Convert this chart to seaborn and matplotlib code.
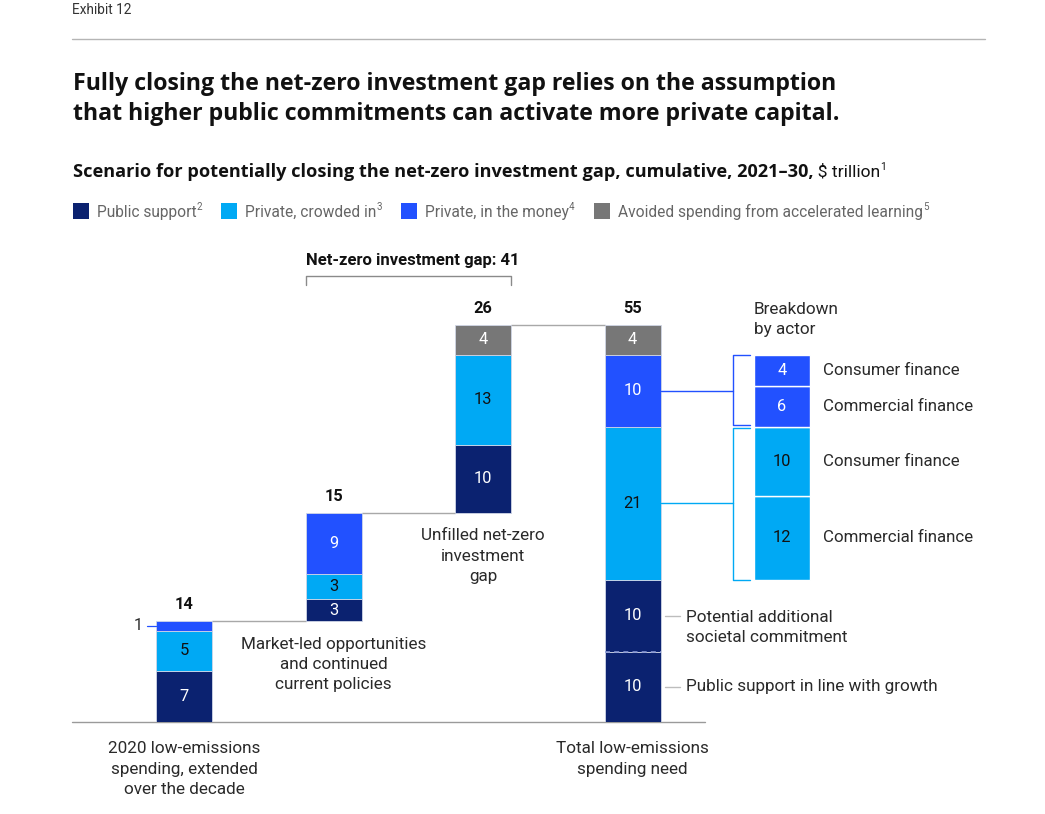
import numpy as np
import pandas as pd
import matplotlib
matplotlib.use("Agg")
import matplotlib.pyplot as plt
import seaborn as sns

# ---------------- data ----------------
step_labels = ["2020 low-emissions\nspending, extended\nover the decade",
               "Market-led opportunities\nand continued\ncurrent policies",
               "Unfilled net-zero\ninvestment\ngap",
               "Total low-emissions\nspending need"]
step_pos = [0, 1, 2, 3]
step_is_total = [True, False, False, True]

public_growth = [7.1, 3.0, 9.4, 9.7]
public_additional = [0.0, 0.0, 0.0, 10.0]
crowded_in = [5.5, 3.45, 12.45, 21.2]
in_the_money = [1.4, 8.55, 0.0, 10.0]
avoided = [0.0, 0.0, 4.15, 4.1]

public_growth_labels = ["7", "3", "10", "10"]
public_additional_labels = ["", "", "", "10"]
crowded_in_labels = ["5", "3", "13", "21"]
in_the_money_labels = ["1", "9", "", "10"]
avoided_labels = ["", "", "4", "4"]
total_labels = ["14", "15", "26", "55"]

gap_label = "Net-zero investment gap: 41"

breakdown_pos = 4
breakdown_values = [11.6, 9.6, 5.6, 4.4]
breakdown_value_labels = ["12", "10", "6", "4"]
breakdown_names = ["Commercial finance", "Consumer finance",
                   "Commercial finance", "Consumer finance"]
breakdown_series = ["crowded", "crowded", "money", "money"]

legend_labels = ["Public support", "Private, crowded in",
                 "Private, in the money", "Avoided spending from accelerated learning"]
legend_notes = ["2", "3", "4", "5"]

# ---------------- style ----------------
NAVY = "#0B2270"
CYAN = "#00A9F4"
BLUE = "#2251FF"
GRAY = "#777777"
TXT = "#2a2a2a"

sns.set_theme(style="white")
FONT = ["Roboto", "DejaVu Sans"]
HEAD = ["Open Sans", "DejaVu Sans"]
plt.rcParams["font.family"] = FONT

W, H = 1045, 814
fig = plt.figure(figsize=(W / 100, H / 100), dpi=100)
renderer = fig.canvas.get_renderer()

# overlay (pixel coordinates) for header texts
ov = fig.add_axes([0, 0, 1, 1])
ov.set_xlim(0, W)
ov.set_ylim(H, 0)
ov.set_axis_off()

# main axes
PX_PER_UNIT = 397 / 55.0
X0_PX, X_STEP_PX = 184.0, 149.5
AX_L, AX_R, AX_B, AX_T = 72, 1000, 722, 250
ax = fig.add_axes([AX_L / W, (H - AX_B) / H, (AX_R - AX_L) / W, (AX_B - AX_T) / H])
BAR_W = 56 / X_STEP_PX

# bases for waterfall
bases = []
running = 0.0
for i in range(len(step_pos)):
    bases.append(0.0 if step_is_total[i] else running)
    running = bases[i] + public_growth[i] + public_additional[i] + crowded_in[i] + in_the_money[i] + avoided[i]

layers = [(public_growth, NAVY, public_growth_labels, "white"),
          (public_additional, NAVY, public_additional_labels, "white"),
          (crowded_in, CYAN, crowded_in_labels, "#111111"),
          (in_the_money, BLUE, in_the_money_labels, "white"),
          (avoided, GRAY, avoided_labels, "white")]

cum = list(bases)
seg_info = []
for vals, col, labs, tcol in layers:
    xs = [step_pos[i] for i in range(len(vals)) if vals[i] > 0]
    hs = [vals[i] for i in range(len(vals)) if vals[i] > 0]
    bs = [cum[i] for i in range(len(vals)) if vals[i] > 0]
    if xs:
        sns.barplot(x=xs, y=hs, bottom=bs, native_scale=True, width=BAR_W,
                    color=col, saturation=1, errorbar=None, ax=ax,
                    linewidth=0.6, edgecolor="#d0d6e6", zorder=2)
    for i in range(len(vals)):
        if vals[i] > 0:
            seg_info.append((step_pos[i], cum[i], vals[i], labs[i], tcol))
            cum[i] += vals[i]
tops = cum

# breakdown bar
bd_base = bases[3] + public_growth[3] + public_additional[3]
b = bd_base
bd_mids = []
for v, lab, ser in zip(breakdown_values, breakdown_value_labels, breakdown_series):
    col = CYAN if ser == "crowded" else BLUE
    sns.barplot(x=[breakdown_pos], y=[v], bottom=[b], native_scale=True, width=BAR_W,
                color=col, saturation=1, errorbar=None, ax=ax,
                linewidth=1.0, edgecolor="white", zorder=2)
    tcol = "#111111" if ser == "crowded" else "white"
    ax.text(breakdown_pos, b + v / 2, lab, ha="center", va="center",
            fontsize=11.8, color=tcol, zorder=4)
    bd_mids.append(b + v / 2)
    b += v

ax.set_xlim(-(X0_PX - AX_L) / X_STEP_PX, (AX_R - X0_PX) / X_STEP_PX)
ax.set_ylim(0, (AX_B - AX_T) / PX_PER_UNIT)
ax.set_axis_off()

def px2x(px):
    return (px - X0_PX) / X_STEP_PX

hw = BAR_W / 2

# segment labels
for x, bot, v, lab, tcol in seg_info:
    if not lab:
        continue
    if x == 0 and lab == "1":
        ym = bot + v / 2
        ax.plot([px2x(147), x - hw], [ym, ym], color=BLUE, lw=0.9, zorder=3)
        ax.text(px2x(143), ym, lab, ha="right", va="center", fontsize=11.5, color=TXT)
        continue
    ax.text(x, bot + v / 2, lab, ha="center", va="center", fontsize=11.8,
            color=tcol, zorder=4)

# dashed split in total public support
ax.plot([3 - hw, 3 + hw], [public_growth[3]] * 2, color="#8898d4", lw=1.2,
        ls=(0, (3, 2.5)), zorder=5)

# totals
for i, x in enumerate(step_pos):
    ax.annotate(total_labels[i], (x, tops[i]), xytext=(0, 11.8), textcoords="offset points",
                ha="center", va="center", fontsize=11.8, fontweight="bold", color="#111111")

# connectors between bars
for i in range(len(step_pos) - 1):
    ax.plot([step_pos[i] + hw, step_pos[i + 1] - hw], [tops[i], tops[i]],
            color="#a8a8a8", lw=1, zorder=1)

# baseline
ax.plot([ax.get_xlim()[0], px2x(705)], [0, 0], color="#9a9a9a", lw=1, clip_on=False, zorder=1)

# gap bracket
gy = (AX_B - 276) / PX_PER_UNIT
gy2 = (AX_B - 285) / PX_PER_UNIT
gl, gr = step_pos[1] - hw, step_pos[2] + hw
ax.plot([gl, gl, gr, gr], [gy2, gy, gy, gy2], color="#8a8a8a", lw=1, clip_on=False)
ax.text((gl + gr) / 2 + 0.03, (AX_B - 260) / PX_PER_UNIT, gap_label, ha="center", va="center",
        fontsize=12, fontweight="bold", color="#111111")

# step labels
ann = dict(fontsize=12.3, color=TXT, linespacing=1.45)
for i in [0, 3]:
    ax.annotate(step_labels[i], (step_pos[i], 0), xytext=(0, -13.8), textcoords="offset points",
                ha="center", va="top", annotation_clip=False, **ann)
ax.annotate(step_labels[1], (step_pos[1], bases[1]), xytext=(0, -11.2), textcoords="offset points",
            ha="center", va="top", **ann)
ax.annotate(step_labels[2], (step_pos[2], bases[2]), xytext=(0, -11.2), textcoords="offset points",
            ha="center", va="top", **ann)

# public support call-outs
y_add = public_growth[3] + public_additional[3] / 2
y_gro = public_growth[3] / 2
ax.plot([px2x(665), px2x(680)], [y_add, y_add], color="#bdbdbd", lw=1)
ax.plot([px2x(665), px2x(680)], [y_gro, y_gro], color="#bdbdbd", lw=1)
ax.annotate("Potential additional\nsocietal commitment", (px2x(686), y_add), xytext=(0, -8.2),
            textcoords="offset points", ha="left", va="center", **ann)
ax.text(px2x(686), y_gro, "Public support in line with growth", ha="left", va="center", **ann)

# breakdown brackets
money_lo = bd_base + breakdown_values[0] + breakdown_values[1]
money_hi = money_lo + breakdown_values[2] + breakdown_values[3]
cr_lo = bd_base
cr_hi = bd_base + breakdown_values[0] + breakdown_values[1]
bx = px2x(733)
bt = px2x(750)
bar4_money_mid = bases[3] + public_growth[3] + public_additional[3] + crowded_in[3] + in_the_money[3] / 2
bar4_cr_mid = bases[3] + public_growth[3] + public_additional[3] + crowded_in[3] / 2
gap_u = 0.2
ax.plot([3 + hw, bx], [bar4_money_mid] * 2, color=BLUE, lw=1)
ax.plot([bt, bx, bx, bt], [money_hi, money_hi, money_lo + gap_u, money_lo + gap_u], color=BLUE, lw=1)
ax.plot([3 + hw, bx], [bar4_cr_mid] * 2, color=CYAN, lw=1)
ax.plot([bt, bx, bx, bt], [cr_hi - gap_u, cr_hi - gap_u, cr_lo, cr_lo], color=CYAN, lw=1)

for ym, nm in zip(bd_mids, breakdown_names):
    ax.text(px2x(823), ym, nm, ha="left", va="center", fontsize=12.2, color=TXT)

ax.annotate("Breakdown\nby actor", (breakdown_pos - hw, tops[3]), xytext=(0, 3.8),
            textcoords="offset points", ha="left", va="center", **ann)

# ---------------- header ----------------
def fit(t, target):
    w = t.get_window_extent(renderer).width
    t.set_fontsize(t.get_fontsize() * target / w)
    return t

ov.text(72, 10, "Exhibit 12", fontsize=9.8, color="#333333", va="center", ha="left")
ov.plot([72, 985], [39, 39], color="#b5b5b5", lw=1)
t1 = ov.text(73, 84, "Fully closing the net-zero investment gap relies on the assumption",
             fontsize=16.5, fontweight="bold", color="#111111", va="center", family=HEAD)
fit(t1, 765)
ov.text(73, 114, "that higher public commitments can activate more private capital.",
        fontsize=t1.get_fontsize(), fontweight="bold", color="#111111", va="center", family=HEAD)


def run_text(x, y, parts):
    cx = x
    for txt, st in parts:
        kw = dict(va="baseline", ha="left")
        kw.update(st)
        dy = kw.pop("dy", 0)
        target = kw.pop("target", None)
        t = ov.text(cx, y + dy, txt, **kw)
        if target:
            fit(t, target)
        cx += t.get_window_extent(renderer).width
    return cx

run_text(73, 177, [("Scenario for potentially closing the net-zero investment gap, cumulative, 2021\u201330,",
                    dict(fontsize=12.3, fontweight="bold", color="#111111", family=HEAD, target=744)),
                   ("\u2009$ trillion", dict(fontsize=12.6, color="#111111")),
                   ("1", dict(fontsize=7.5, color="#111111", dy=-7))])

leg_cols = [NAVY, CYAN, BLUE, GRAY]
lx = 73
for lab, note, col in zip(legend_labels, legend_notes, leg_cols):
    ov.add_patch(plt.Rectangle((lx, 203), 16, 16, color=col, lw=0))
    end = run_text(lx + 24, 216.5, [(lab, dict(fontsize=11.2, color="#666666")),
                                    (note, dict(fontsize=7, color="#666666", dy=-7))])
    lx = end + 19

fig.savefig("out.png", dpi=100)
